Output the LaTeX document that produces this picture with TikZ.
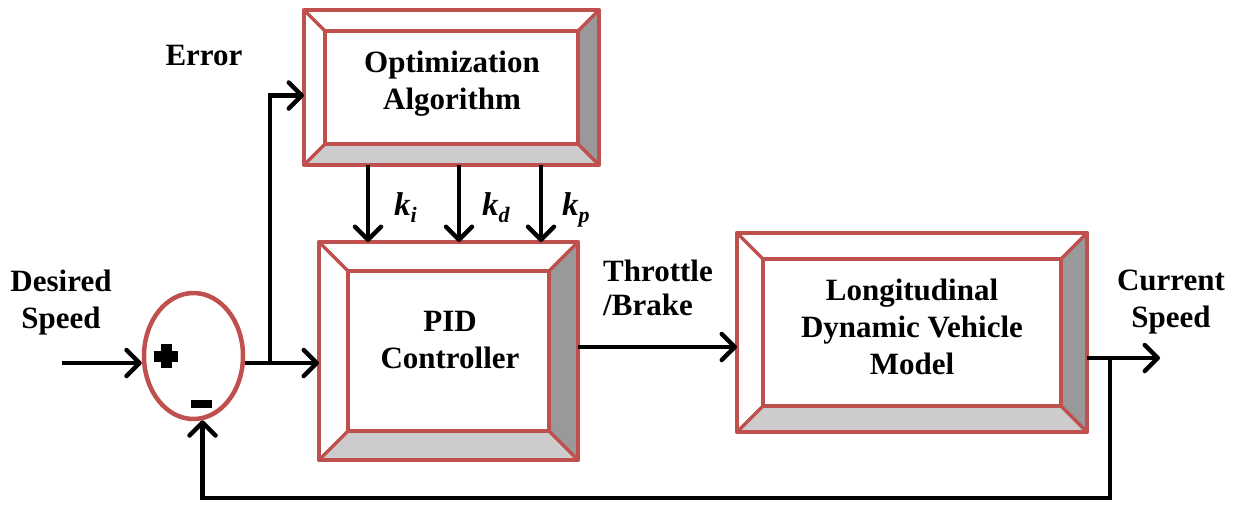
\documentclass[tikz,border=0pt]{standalone}
\usepackage{fontspec}
\setmainfont{Liberation Serif}
\usetikzlibrary{arrows.meta,calc,shapes.geometric}
\definecolor{frame}{HTML}{C0504D}
\definecolor{bevR}{HTML}{999999}
\definecolor{bevB}{HTML}{CCCCCC}
\newcommand\bevelframe[2]{%
  \coordinate (o1) at (#1.north west);
  \coordinate (o2) at (#1.north east);
  \coordinate (o3) at (#1.south east);
  \coordinate (o4) at (#1.south west);
  \coordinate (i1) at ($(#1.north west)+(#2pt,-#2pt)$);
  \coordinate (i2) at ($(#1.north east)+(-#2pt,-#2pt)$);
  \coordinate (i3) at ($(#1.south east)+(-#2pt,#2pt)$);
  \coordinate (i4) at ($(#1.south west)+(#2pt,#2pt)$);
  \fill[bevR] (o2)--(o3)--(i3)--(i2)--cycle;
  \fill[bevB] (o3)--(o4)--(i4)--(i3)--cycle;
  \draw[dg] (o1)--(i1) (o2)--(i2) (o3)--(i3) (o4)--(i4);
  \draw[frm] (o1) rectangle (o3);
  \draw[frm] (i1) rectangle (i3);
}
\newcommand\ksub[1]{\raisebox{-7pt}{\fontsize{22}{22}\selectfont #1}}
\begin{document}
\begin{tikzpicture}[x=1pt,y=-1pt,
  lbl/.style={font=\fontsize{31}{37}\selectfont\bfseries, align=center, inner sep=0pt},
  boxn/.style={inner sep=0pt, outer sep=0pt, rectangle},
  arr/.style={line width=4.5pt, -{Straight Barb[length=13pt,width=26pt,round]}},
  wire/.style={line width=4.5pt},
  frm/.style={draw=frame, line width=4.5pt, line join=round},
  dg/.style={draw=frame, line width=3.5pt},
  klbl/.style={font=\fontsize{33}{33}\selectfont\bfseries\itshape, inner sep=0pt, anchor=base west}]

\fill[white] (0,0) rectangle (1236,504);
\useasboundingbox (0,0) rectangle (1236,504);

% boxes
\node[boxn, minimum width=295pt, minimum height=155pt] (opt) at (451.5,87.5) {};
\node[boxn, minimum width=259pt, minimum height=218pt] (pid) at (448.5,351) {};
\node[boxn, minimum width=350pt, minimum height=199pt] (long) at (912,332.5) {};
\bevelframe{opt}{21}
\bevelframe{pid}{29}
\bevelframe{long}{26}

\node[lbl] (optt) at (452,84) {Optimization\\Algorithm};
\node[lbl] (pidt) at (450,340) {PID\\Controller};
\node[lbl] (longt) at (912,327) {Longitudinal\\Dynamic Vehicle\\Model};

% summing junction
\node[draw=frame, line width=4.5pt, ellipse, minimum width=99pt, minimum height=126pt, inner sep=0pt] (sum) at (193.5,356) {};
\fill (154,351) rectangle (178,362);
\fill (160.5,344) rectangle (171.5,368);
\fill (191,399.5) rectangle (212,408);

% labels
\node[lbl] (err) at (204,55) {Error};
\node[lbl] (des) at (61,302.5) {Desired\\Speed};
\node[lbl] (cur) at (1171,302) {Current\\Speed};
\node[lbl, align=left, anchor=north west] (thr) at (603,260) {Throttle\\[-3pt]/Brake};
\node[klbl] (ki) at (394,215) {k\ksub{i}};
\node[klbl] (kd) at (482,215) {k\ksub{d}};
\node[klbl] (kp) at (562,215) {k\ksub{p}};

% coordinates
\coordinate (in) at (62,363);
\coordinate (br) at (270,363);
\coordinate (kx1) at (368,0);
\coordinate (kx2) at (459,0);
\coordinate (kx3) at (541,0);
\coordinate (t1) at ([yshift=4pt]pid.east);
\coordinate (t2) at ([yshift=-25.5pt]long.east);
\coordinate (out) at (1160,358);
\coordinate (fb) at (1110,358);
\coordinate (fbb) at (1110,498);

% connectors
\draw[arr] (in) -- (in -| sum.west);
\draw[wire] (sum.east |- br) -- (br);
\draw[arr] (br) -- (br -| pid.west);
\draw[arr] (br) |- ([yshift=-8pt]opt.west);
\draw[arr] (opt.south -| kx1) -- (pid.north -| kx1);
\draw[arr] (opt.south -| kx2) -- (pid.north -| kx2);
\draw[arr] (opt.south -| kx3) -- (pid.north -| kx3);
\draw[arr] (t1) -- (t1 -| long.west);
\draw[arr] (t2) -- (out);
\draw[arr, line join=miter] (fb) -- (fbb) -| (sum.-82);
\end{tikzpicture}
\end{document}
